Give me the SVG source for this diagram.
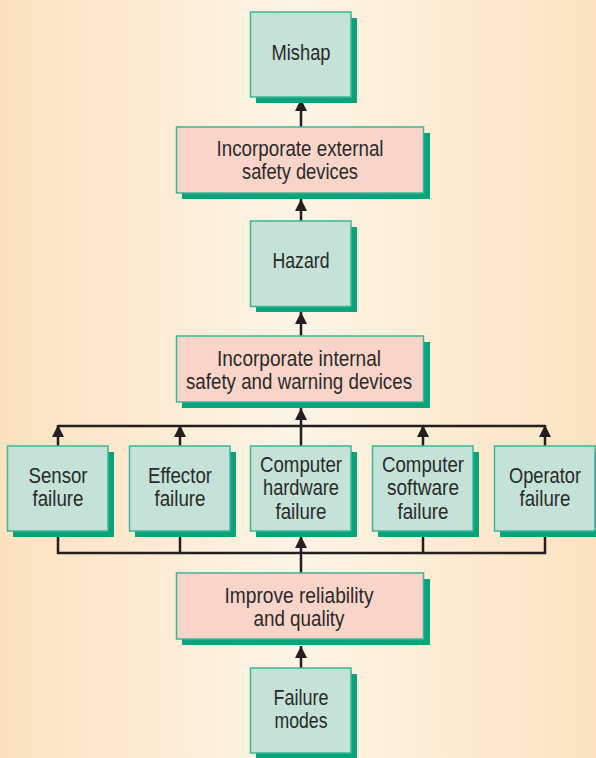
<svg xmlns="http://www.w3.org/2000/svg" width="596" height="758" viewBox="0 0 596 758">
<defs>
<linearGradient id="bg" x1="0" y1="0" x2="1" y2="0">
<stop offset="0" stop-color="#fbe2bf"/>
<stop offset="0.5" stop-color="#fdf4e6"/>
<stop offset="1" stop-color="#fbe3c0"/>
</linearGradient>
<marker id="ah" markerUnits="userSpaceOnUse" markerWidth="14" markerHeight="12" viewBox="0 0 14 12" refX="12" refY="6" orient="auto">
<path d="M0,0 L12,6 L0,12 z" fill="#231f20"/>
</marker>
<style>
.sh{fill:#0aa37b}
.g{fill:#c5e2d8;stroke:#3cb796;stroke-width:1.5}
.p{fill:#f9d5c9;stroke:#3cb796;stroke-width:1.5}
.t{font-family:"Liberation Sans",Arial,sans-serif;font-size:22px;fill:#2a2a2a;text-anchor:middle}
.c{stroke:#231f20;stroke-width:2.5;fill:none}
.a{stroke:#231f20;stroke-width:2.5;fill:none;marker-end:url(#ah)}
</style>
</defs>
<rect width="596" height="758" fill="url(#bg)"/>

<g id="connectors">
<line class="a" x1="301" y1="127" x2="301" y2="99"/>
<line class="a" x1="301" y1="221" x2="301" y2="199"/>
<line class="a" x1="301" y1="336" x2="301" y2="312"/>
<line class="a" x1="301" y1="446" x2="301" y2="408"/>
<line class="c" x1="58" y1="426" x2="545" y2="426"/>
<line class="a" x1="58" y1="446" x2="58" y2="425"/>
<line class="a" x1="180" y1="446" x2="180" y2="425"/>
<line class="a" x1="423" y1="446" x2="423" y2="425"/>
<line class="a" x1="545" y1="446" x2="545" y2="425"/>
<polyline class="c" points="58,531 58,553 545,553 545,531"/>
<line class="c" x1="180" y1="531" x2="180" y2="553"/>
<line class="c" x1="423" y1="531" x2="423" y2="553"/>
<line class="a" x1="301" y1="573" x2="301" y2="536"/>
<line class="a" x1="301" y1="668" x2="301" y2="646"/>
</g>

<g id="mishap">
<rect class="sh" x="256" y="18" width="101" height="85"/>
<rect class="g" x="250.5" y="12" width="100.5" height="85"/>
<text class="t" x="301" y="60" textLength="59" lengthAdjust="spacingAndGlyphs">Mishap</text>
</g>

<g id="external">
<rect class="sh" x="182" y="133" width="248" height="66"/>
<rect class="p" x="176.5" y="127" width="247" height="66"/>
<text class="t" x="300" y="156" textLength="167" lengthAdjust="spacingAndGlyphs">Incorporate external</text>
<text class="t" x="300" y="179" textLength="116" lengthAdjust="spacingAndGlyphs">safety devices</text>
</g>

<g id="hazard">
<rect class="sh" x="256" y="227" width="101" height="85"/>
<rect class="g" x="250.5" y="221" width="100.5" height="85.5"/>
<text class="t" x="301" y="268" textLength="57" lengthAdjust="spacingAndGlyphs">Hazard</text>
</g>

<g id="internal">
<rect class="sh" x="182" y="342" width="248" height="66"/>
<rect class="p" x="176.5" y="336" width="247" height="66"/>
<text class="t" x="299" y="366" textLength="164" lengthAdjust="spacingAndGlyphs">Incorporate internal</text>
<text class="t" x="299" y="389" textLength="226" lengthAdjust="spacingAndGlyphs">safety and warning devices</text>
</g>

<g id="sensor">
<rect class="sh" x="13" y="452" width="101" height="85"/>
<rect class="g" x="7.5" y="446" width="100.5" height="85"/>
<text class="t" x="58" y="483" textLength="59" lengthAdjust="spacingAndGlyphs">Sensor</text>
<text class="t" x="58" y="506" textLength="51" lengthAdjust="spacingAndGlyphs">failure</text>
</g>

<g id="effector">
<rect class="sh" x="135" y="452" width="101" height="85"/>
<rect class="g" x="129.5" y="446" width="100.5" height="85"/>
<text class="t" x="180" y="483" textLength="64" lengthAdjust="spacingAndGlyphs">Effector</text>
<text class="t" x="180" y="506" textLength="51" lengthAdjust="spacingAndGlyphs">failure</text>
</g>

<g id="hardware">
<rect class="sh" x="256" y="452" width="101" height="85"/>
<rect class="g" x="250.5" y="446" width="100.5" height="85"/>
<text class="t" x="301" y="472" textLength="82" lengthAdjust="spacingAndGlyphs">Computer</text>
<text class="t" x="301" y="495" textLength="76" lengthAdjust="spacingAndGlyphs">hardware</text>
<text class="t" x="301" y="519" textLength="51" lengthAdjust="spacingAndGlyphs">failure</text>
</g>

<g id="software">
<rect class="sh" x="378" y="452" width="101" height="85"/>
<rect class="g" x="372.5" y="446" width="100.5" height="85"/>
<text class="t" x="423" y="472" textLength="82" lengthAdjust="spacingAndGlyphs">Computer</text>
<text class="t" x="423" y="495" textLength="72" lengthAdjust="spacingAndGlyphs">software</text>
<text class="t" x="423" y="519" textLength="51" lengthAdjust="spacingAndGlyphs">failure</text>
</g>

<g id="operator">
<rect class="sh" x="500" y="452" width="101" height="85"/>
<rect class="g" x="494.5" y="446" width="100.5" height="85"/>
<text class="t" x="545" y="483" textLength="72" lengthAdjust="spacingAndGlyphs">Operator</text>
<text class="t" x="545" y="506" textLength="51" lengthAdjust="spacingAndGlyphs">failure</text>
</g>

<g id="improve">
<rect class="sh" x="182" y="579" width="248" height="66"/>
<rect class="p" x="176.5" y="573" width="247" height="66"/>
<text class="t" x="299" y="603" textLength="149" lengthAdjust="spacingAndGlyphs">Improve reliability</text>
<text class="t" x="299" y="626" textLength="91" lengthAdjust="spacingAndGlyphs">and quality</text>
</g>

<g id="failuremodes">
<rect class="sh" x="256" y="674" width="101" height="85"/>
<rect class="g" x="250.5" y="668" width="100.5" height="85"/>
<text class="t" x="301" y="705" textLength="55" lengthAdjust="spacingAndGlyphs">Failure</text>
<text class="t" x="301" y="728" textLength="53" lengthAdjust="spacingAndGlyphs">modes</text>
</g>
</svg>
